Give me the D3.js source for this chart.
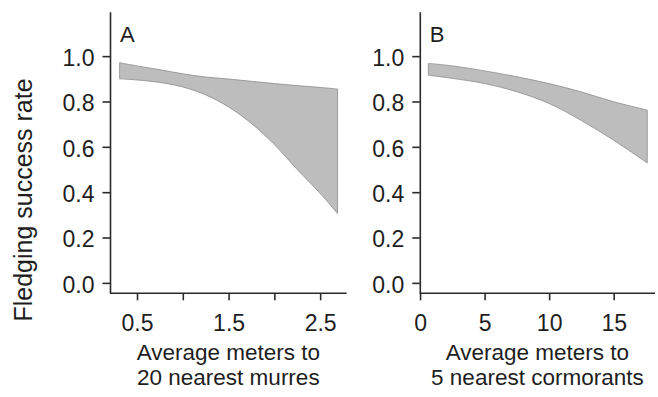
<!DOCTYPE html>
<html>
<head>
  <meta charset="utf-8">
  <title>fledging</title>
  <script src="https://d3js.org/d3.v7.min.js"></script>
  <style>
    body { margin: 0; background: #fff; }
    text { font-family: "Liberation Sans", Arial, sans-serif; fill: #1e1e1e; }
  </style>
</head>
<body>
  <svg width="658" height="397" id="mainsvg"></svg>
  <script>
    // panel A: distance to 20 nearest murres
    const murreX     = [0.31, 0.5, 0.75, 1.0, 1.25, 1.5, 1.75, 2.0, 2.25, 2.5, 2.69];
    const murreUpper = [0.971, 0.957, 0.940, 0.922, 0.908, 0.899, 0.889, 0.879, 0.870, 0.862, 0.855];
    const murreLower = [0.900, 0.895, 0.884, 0.864, 0.829, 0.776, 0.703, 0.610, 0.500, 0.395, 0.306];

    // panel B: distance to 5 nearest cormorants
    const cormX     = [0.64, 2.5, 5, 7.5, 10, 12.5, 15, 17.6];
    const cormUpper = [0.968, 0.957, 0.935, 0.909, 0.879, 0.842, 0.799, 0.762];
    const cormLower = [0.916, 0.902, 0.879, 0.843, 0.791, 0.716, 0.629, 0.529];

    const yTicks = [0, 0.2, 0.4, 0.6, 0.8, 1.0];
    const murreTicks = [0.5, 1.0, 1.5, 2.0, 2.5];
    const murreLabels = ['0.5', '', '1.5', '', '2.5'];
    const cormTicks = [0, 5, 10, 15];

    const svg = d3.select('#mainsvg');

    const yScale = d3.scaleLinear().domain([-0.046, 1.196]).range([293.3, 11.7]);

    const panels = [
      { letter: 'A', left: 110, right: 346.7, domain: [0.205, 2.79],
        xs: murreX, up: murreUpper, lo: murreLower,
        ticks: murreTicks, fmt: (d, i) => murreLabels[i],
        title: ['Average meters to', '20 nearest murres'] },
      { letter: 'B', left: 419.8, right: 655, domain: [-0.02, 18.2],
        xs: cormX, up: cormUpper, lo: cormLower,
        ticks: cormTicks, fmt: d => d,
        title: ['Average meters to', '5 nearest cormorants'] }
    ];

    panels.forEach(p => {
      const xScale = d3.scaleLinear().domain(p.domain).range([p.left, p.right]);
      const g = svg.append('g');

      const rows = p.xs.map((x, i) => ({ x: x, up: p.up[i], lo: p.lo[i] }));
      const area = d3.area()
        .x(d => xScale(d.x))
        .y0(d => yScale(d.lo))
        .y1(d => yScale(d.up))
        .curve(d3.curveCatmullRom);
      g.append('path')
        .datum(rows)
        .attr('d', area)
        .attr('fill', '#bdbdbd')
        .attr('stroke', '#8c8c8c')
        .attr('stroke-width', 0.8);

      const xAxis = d3.axisBottom(xScale)
        .tickValues(p.ticks)
        .tickFormat(p.fmt)
        .tickSize(7)
        .tickSizeOuter(0)
        .tickPadding(14);
      const yAxis = d3.axisLeft(yScale)
        .tickValues(yTicks)
        .tickFormat(d3.format('.1f'))
        .tickSize(7.5)
        .tickSizeOuter(0)
        .tickPadding(8);

      const gx = g.append('g').attr('transform', 'translate(0,293.3)').call(xAxis);
      const gy = g.append('g').attr('transform', `translate(${p.left},0)`).call(yAxis);
      [gx, gy].forEach(a => {
        a.select('.domain').attr('stroke', '#2a2a2a').attr('stroke-width', 1.6);
        a.selectAll('.tick line').attr('stroke', '#2a2a2a').attr('stroke-width', 1.6);
        a.selectAll('.tick text')
          .attr('font-size', 23)
          .attr('font-family', '"Liberation Sans", Arial, sans-serif')
          .attr('fill', '#1e1e1e');
      });
      gy.selectAll('.tick text').attr('dy', '0.4em');
      gx.select('.domain').attr('d', `M${p.left},0H${p.right}`);

      g.append('text')
        .attr('x', p.left + 10)
        .attr('y', 42)
        .attr('font-size', 22)
        .text(p.letter);

      const cx = (p.left + p.right) / 2;
      p.title.forEach((t, i) => {
        g.append('text')
          .attr('x', cx)
          .attr('y', 360 + i * 24.5)
          .attr('text-anchor', 'middle')
          .attr('font-size', 22.5)
          .text(t);
      });
    });

    svg.append('text')
      .attr('transform', 'translate(32,200) rotate(-90)')
      .attr('text-anchor', 'middle')
      .attr('font-size', 25)
      .text('Fledging success rate');
  </script>
</body>
</html>
